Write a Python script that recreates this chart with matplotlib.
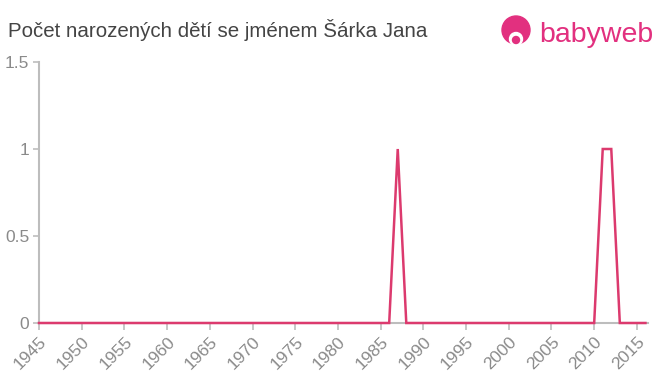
import matplotlib
matplotlib.use("Agg")
import matplotlib.pyplot as plt
from matplotlib.patches import Circle

# yearly counts, 1945..2016
years = list(range(1945, 2017))
births = [0] * len(years)
for y in (1987, 2011, 2012):
    births[years.index(y)] = 1

xticks = list(range(1945, 2016, 5))
yticks = [0, 0.5, 1, 1.5]
ytick_labels = ["0", "0.5", "1", "1.5"]

GREY = "#8a8a8a"
AXIS = "#bdbdbd"
LINE = "#dc3a6e"
PINK = "#e2307f"

plt.rcParams["font.family"] = ["Liberation Sans", "DejaVu Sans"]

fig = plt.figure(figsize=(6.6, 3.75), dpi=100)
ax = fig.add_axes([39 / 660, 1 - 323 / 375, (648 - 39) / 660, (323 - 62) / 375])

ax.plot(years, births, color=LINE, lw=1.8, solid_joinstyle="miter", clip_on=False, zorder=3)

ax.set_xlim(1945, 2016.3)
ax.set_ylim(0, 1.5)
ax.set_xticks(xticks)
ax.set_xticklabels([str(x) for x in xticks], rotation=45, ha="right", rotation_mode="anchor")
ax.set_yticks(yticks)
ax.set_yticklabels(ytick_labels)
ax.tick_params(axis="x", colors=AXIS, labelcolor=GREY, labelsize=12.5, length=5, width=1.2, pad=3)
ax.tick_params(axis="y", colors=AXIS, labelcolor=GREY, labelsize=12.5, length=4, width=1.2, pad=3)
for s in ("top", "right"):
    ax.spines[s].set_visible(False)
for s in ("left", "bottom"):
    ax.spines[s].set_color(AXIS)
    ax.spines[s].set_linewidth(1.5)

fig.text(8 / 660, 1 - 30 / 375, "Počet narozených dětí se jménem Šárka Jana",
         fontsize=14.8, color="#444444", va="center", ha="left")

# babyweb logo
logo = fig.add_axes([500 / 660, 1 - 50 / 375, 32 / 660, 36 / 375])
logo.set_xlim(0, 32); logo.set_ylim(0, 36); logo.set_aspect("equal"); logo.axis("off")
logo.add_patch(Circle((16, 20), 14, color=PINK))
logo.add_patch(Circle((16, 11), 6.5, color="white"))
logo.add_patch(Circle((16, 10), 3.5, color=PINK))
fig.text(539 / 660, 1 - 35 / 375, "babyweb", fontsize=20.5, color=PINK, va="center", ha="left")

fig.savefig("out.png", dpi=100)
